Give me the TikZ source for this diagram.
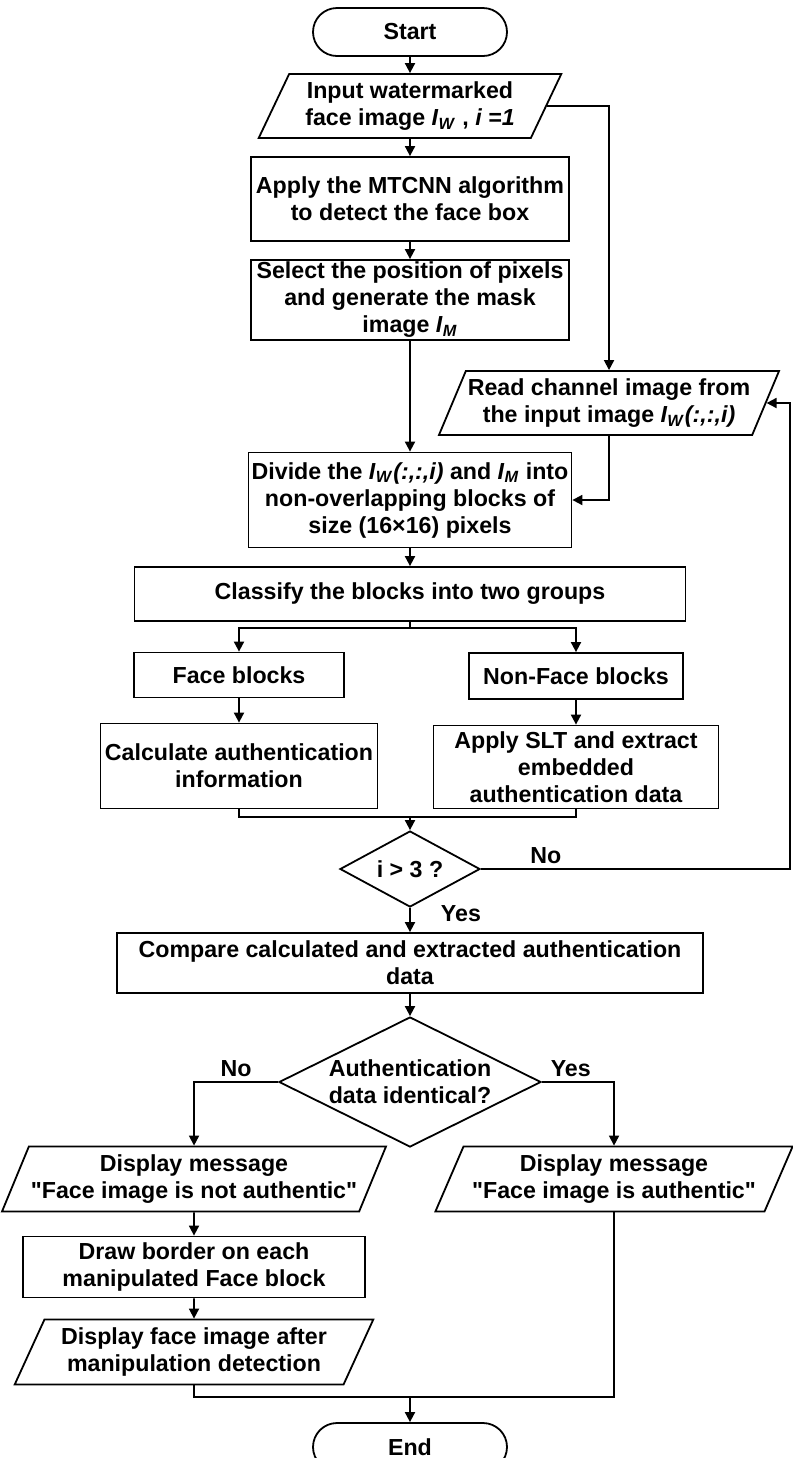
\documentclass[tikz,border=0pt]{standalone}
\usepackage{fontspec}
\setmainfont{Liberation Sans}[Ligatures=TeXOff]
\usepackage{tikz}
\usetikzlibrary{shapes.geometric,arrows.meta}
\newcommand{\imgW}{\textit{I}\textsubscript{\textit{W}}}
\newcommand{\imgM}{\textit{I}\textsubscript{\textit{M}}}

\begin{document}
\begin{tikzpicture}
		[x=0.5pt,y=-0.5pt,
		%Styles
		every node/.style={font=\fontsize{11.6}{13.5}\selectfont\bfseries,align=center},
		process/.style={rectangle,draw,line width=0.9pt,inner sep=1pt},
		terminal/.style={rectangle,rounded corners=12pt,draw,line width=0.9pt,minimum width=97pt,minimum height=24pt},
		io/.style={trapezium,trapezium left angle=63,trapezium right angle=117,trapezium stretches=true,draw,line width=0.9pt,inner sep=1pt},
		decision/.style={diamond,draw,line width=0.9pt,inner sep=0pt,shape aspect=2},
		lbl/.style={inner sep=2pt},
		arrow line/.style={line width=0.9pt,-{Triangle[length=5pt,width=5pt]}},
		plain line/.style={line width=0.9pt}
		]
		\useasboundingbox (0,0) rectangle (793,1458);
		
		%The graphic
		\node[terminal] (start) at (410,32) {Start};
		\node[io,minimum width=151.5pt,minimum height=32pt] (input) at (410,106) {Input watermarked\\face image \imgW\ , \textit{i =1}};
		\node[process,minimum width=159pt,minimum height=42pt] (apply) at (410,199) {Apply the MTCNN algorithm\\to detect the face box};
		\node[process,minimum width=159pt,minimum height=40pt] (select) at (410,300) {Select the position of pixels\\and generate the mask\\image \imgM};
		\node[io,minimum width=165.5pt,minimum height=32pt] (readch) at (609,403) {Read channel image from\\the input image \imgW\textit{(:,:,i)}};
		\node[process,minimum width=161.5pt,minimum height=47.5pt] (divide) at (410,500) {Divide the \imgW\textit{(:,:,i)} and \imgM\ into\\non-overlapping blocks of\\size (16×16) pixels};
		\node[process,minimum width=275.5pt,minimum height=27pt] (classify) at (410,594) {Classify the blocks into two groups};
		\node[process,minimum width=105pt,minimum height=22.5pt] (face) at (239,675) {Face blocks};
		\node[process,minimum width=107pt,minimum height=23pt] (nonface) at (576,676) {Non-Face blocks};
		\node[process,minimum width=138.5pt,minimum height=42.5pt] (calc) at (239,766) {Calculate authentication\\information};
		\node[process,minimum width=142.5pt,minimum height=41.5pt] (slt) at (576,767) {Apply SLT and extract\\embedded\\authentication data};
		\node[decision,minimum width=70pt,minimum height=38pt] (cond1) at (410,869) {i > 3 ?};
		\node[process,minimum width=293pt,minimum height=30pt] (compare) at (410,963) {Compare calculated and extracted authentication\\data};
		\node[decision,minimum width=131pt,minimum height=65pt] (cond2) at (410,1082) {Authentication\\data identical?};
		\node[io,minimum width=179.5pt,minimum height=32.5pt] (msgno) at (194,1179) {Display message\\"Face image is not authentic"};
		\node[io,minimum width=179pt,minimum height=32.5pt] (msgyes) at (614,1179) {Display message\\"Face image is authentic"};
		\node[process,minimum width=171pt,minimum height=30.5pt] (border) at (194,1267) {Draw border on each\\manipulated Face block};
		\node[io,minimum width=179.5pt,minimum height=32.5pt] (showimg) at (194,1352) {Display face image after\\manipulation detection};
		\node[terminal] (end) at (410,1447) {End};
		
		\coordinate (split) at (410,628);
		\coordinate (join) at (410,817);
		\coordinate (loop) at (790,869);
		\coordinate (join2) at (410,1397);
		
		\draw[arrow line] (start) -- (input);
		\draw[arrow line] (input) -- (apply);
		\draw[arrow line] (apply) -- (select);
		\draw[arrow line] (select) -- (divide);
		\draw[arrow line] (input.east) -| (readch.north);
		\draw[arrow line] (readch.south) |- (divide.east);
		\draw[arrow line] (divide) -- (classify);
		\draw[plain line] (classify) -- (split);
		\draw[arrow line] (split) -| (face);
		\draw[arrow line] (split) -| (nonface);
		\draw[arrow line] (face) -- (calc);
		\draw[arrow line] (nonface) -- (slt);
		\draw[plain line] (calc) |- (join) -| (slt);
		\draw[arrow line] (join) -- (cond1);
		\draw[arrow line] (cond1) -- node[lbl,above,pos=0.21] {No} (loop) |- (readch.east);
		\draw[arrow line] (cond1) -- node[lbl,right=13pt,pos=0.23] {Yes} (compare);
		\draw[arrow line] (compare) -- (cond2);
		\draw[arrow line] (cond2) -| node[lbl,above,pos=0.25] {No} (msgno);
		\draw[arrow line] (cond2) -| node[lbl,above,pos=0.2] {Yes} (msgyes);
		\draw[arrow line] (msgno) -- (border);
		\draw[arrow line] (border) -- (showimg);
		\draw[plain line] (showimg) |- (join2) -| (msgyes);
		\draw[arrow line] (join2) -- (end);
	\end{tikzpicture}
\end{document}
